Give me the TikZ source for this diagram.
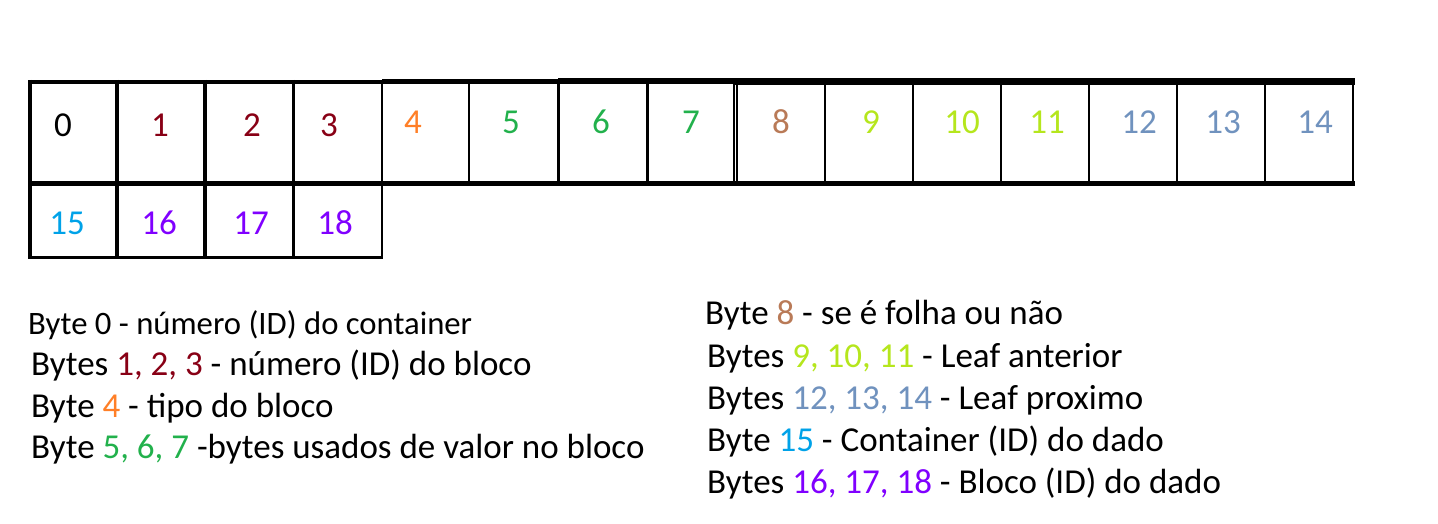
\documentclass[tikz,border=0pt]{standalone}
\usepackage{fontspec}
\setmainfont{Carlito}
\definecolor{cdred}{HTML}{880015}
\definecolor{corange}{HTML}{FF7F27}
\definecolor{cgreen}{HTML}{22B14C}
\definecolor{cbrown}{HTML}{B97A57}
\definecolor{clime}{HTML}{B5E61D}
\definecolor{cbluegray}{HTML}{7092BE}
\definecolor{cturq}{HTML}{00A2E8}
\definecolor{cpurple}{HTML}{8000FF}
\begin{document}
\begin{tikzpicture}[x=1pt,y=-1pt,
  small/.style={font=\fontsize{35}{40}\selectfont, anchor=base, inner sep=0pt},
  big/.style={font=\fontsize{35}{40}\selectfont, anchor=base, inner sep=0pt},
  legend/.style={font=\fontsize{35}{42}\selectfont, anchor=base west, inner sep=0pt},
  legendA/.style={font=\fontsize{32.7}{40}\selectfont, anchor=base west, inner sep=0pt},
  thick line/.style={line width=4pt},
  mid line/.style={line width=2.2pt},
  thin line/.style={line width=1.3pt}]
\useasboundingbox (0,0) rectangle (1438,524);
% horizontal lines
\draw[line width=4pt] (28,82.5) -- (382,82.5);
\draw[line width=5pt] (382,82) -- (558,82);
\draw[line width=6pt] (558,81.5) -- (736,81.5);
\draw[line width=7pt] (733,81.5) -- (1355,81.5);
\draw[line width=4.5pt] (28,183.5) -- (1355,183.5);
\draw[line width=3pt] (28,257.5) -- (382,257.5);
% verticals
\draw[thick line] (30,80) -- (30,259);
\draw[thick line] (117,80) -- (117,259);
\draw[line width=3.5pt] (205,80) -- (205,259);
\draw[line width=3pt] (293,80) -- (293,259);
\draw[thin line] (382,80) -- (382,259);
\draw[thin line] (469,82) -- (469,183);
\draw[line width=3pt] (558,80) -- (558,184);
\draw[line width=3pt] (647,80) -- (647,184);
\draw[thin line] (734,80) -- (734,184);
\draw[thin line] (737,80) -- (737,184);
\foreach \x in {825,913,1001,1089,1177,1265,1353}
  \draw[mid line] (\x,80) -- (\x,184);
% cell numbers
\node[small] (n0) at (63,137) {0};
\node[small, text=cdred] (n1) at (160,137) {1};
\node[small, text=cdred] (n2) at (252,137) {2};
\node[small, text=cdred] (n3) at (329,137) {3};
\node[big, text=corange] (n4) at (413,133.5) {4};
\node[big, text=cgreen] (n5) at (511,133.5) {5};
\node[big, text=cgreen] (n6) at (601,133.5) {6};
\node[big, text=cgreen] (n7) at (691,133.5) {7};
\node[big, text=cbrown] (n8) at (781,133.5) {8};
\node[big, text=clime] (n9) at (871,133.5) {9};
\node[big, text=clime] (n10) at (962,133.5) {10};
\node[big, text=clime] (n11) at (1047,133.5) {11};
\node[big, text=cbluegray] (n12) at (1139,133.5) {12};
\node[big, text=cbluegray] (n13) at (1223,133.5) {13};
\node[big, text=cbluegray] (n14) at (1315,133.5) {14};
\node[big, text=cturq] (n15) at (67,234) {15};
\node[big, text=cpurple] (n16) at (159,234) {16};
\node[big, text=cpurple] (n17) at (251,234) {17};
\node[big, text=cpurple] (n18) at (335,234) {18};
% legend left
\node[legendA] (l1) at (28,334) {Byte 0 - número (ID) do container};
\node[legend] (l2) at (31,375) {Bytes \textcolor{cdred}{1, 2, 3} - número (ID) do bloco};
\node[legend] (l3) at (31,417) {Byte \textcolor{corange}{4} - tipo do bloco};
\node[legend] (l4) at (31,458) {Byte \textcolor{cgreen}{5, 6, 7} -bytes usados de valor no bloco};
% legend right
\node[legend] (r1) at (705,324) {Byte \textcolor{cbrown}{8} - se é folha ou não};
\node[legend] (r2) at (707,367) {Bytes \textcolor{clime}{9, 10, 11} - Leaf anterior};
\node[legend] (r3) at (707,409) {Bytes \textcolor{cbluegray}{12, 13, 14} - Leaf proximo};
\node[legend] (r4) at (707,451) {Byte \textcolor{cturq}{15} - Container (ID) do dado};
\node[legend] (r5) at (707,493) {Bytes \textcolor{cpurple}{16, 17, 18} - Bloco (ID) do dado};
\end{tikzpicture}
\end{document}
